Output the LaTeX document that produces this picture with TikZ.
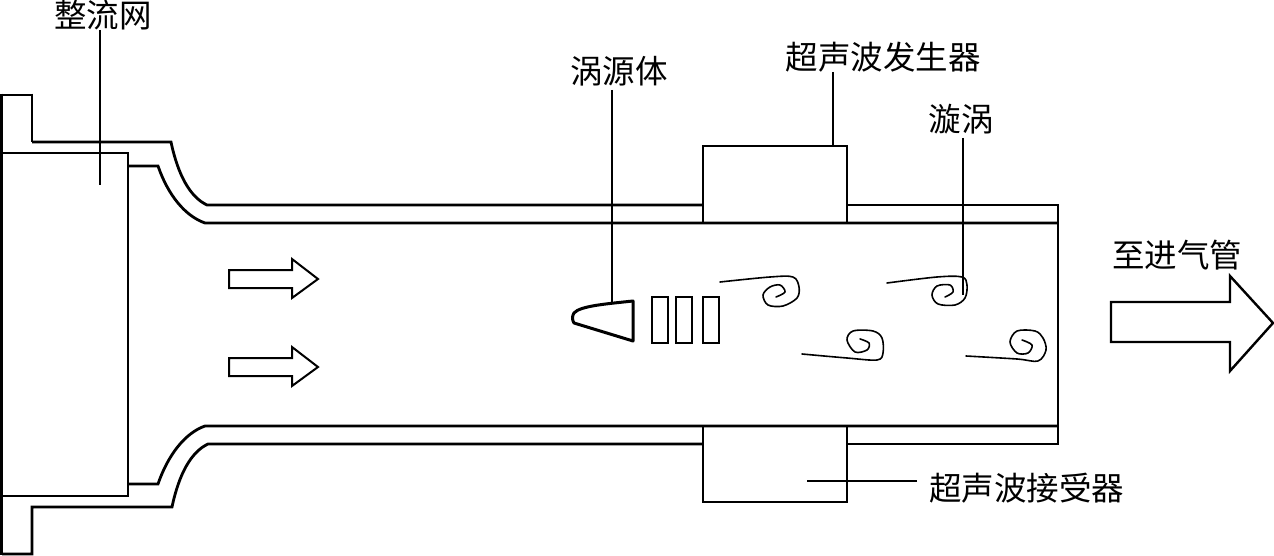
\documentclass[tikz,border=0pt]{standalone}
\usepackage{fontspec}
\newfontfamily\cjk{Noto Sans CJK SC}[Scale=1]
\tikzset{
  wall/.style={line width=2.8pt,line join=miter},
  thin lead/.style={line width=1.2pt},
  swirl/.style={line width=1.6pt,line join=round,line cap=round},
  label/.style={font=\cjk\fontsize{32.5}{32.5}\selectfont,inner sep=0pt,text=black}
}
\begin{document}
\begin{tikzpicture}[x=1pt,y=-1pt]
\useasboundingbox (0,0) rectangle (1274,556);
% labels
\node[label] (zl) at (103,15) {整流网};
\node[label] (wy) at (619,71) {涡源体};
\node[label] (fs) at (883,57) {超声波发生器};
\node[label] (xw) at (961,119) {漩涡};
\node[label] (zj) at (1177,255) {至进气管};
\node[label,anchor=west] (js) at (929,488) {超声波接受器};
% housing
\draw[wall] (32,142) -- (171,142)
  .. controls (178,175) and (190,197) .. (207,205) -- (703,205);
\draw[wall] (32,93.6) -- (32,142);
\draw[wall] (2,95) -- (32,95);
\draw[line width=3.2pt] (1.8,93.6) -- (1.8,555.4);
\draw[wall] (2,554) -- (32,554) -- (32,507) -- (172,507)
  .. controls (179,474) and (191,452) .. (208,444) -- (703,444);
\draw[wall] (2,153) -- (128,153) -- (128,496) -- (2,496);
\draw[wall] (128,166) -- (158,166) .. controls (168,195) and (185,216) .. (205,223) -- (1058,223);
\draw[wall] (128,484) -- (158,484) .. controls (168,455) and (185,433) .. (205,426) -- (1058,426);
\draw[wall] (703,222) -- (703,146) -- (847,146) -- (847,222);
\draw[wall] (703,426) -- (703,502) -- (847,502) -- (847,426);
\draw[wall] (847,205) -- (1058,205) -- (1058,444) -- (847,444);
% vortex body and bars
\draw[line width=3pt,line join=round] (633,301) .. controls (605,304) and (580,306) .. (574,313) .. controls (572,316) and (572,320) .. (574,323) -- (633,341) -- cycle;
\draw[wall] (652,297) rectangle (668,343);
\draw[wall] (676,297) rectangle (692,343);
\draw[wall] (703,297) rectangle (719,343);
% flow arrows
\draw[line width=2pt,line join=miter] (229,270) -- (292,270) -- (292,259) -- (318,279) -- (292,298) -- (292,288) -- (229,288) -- cycle;
\draw[line width=2pt,line join=miter] (229,358) -- (292,358) -- (292,347) -- (318,367) -- (292,386) -- (292,376) -- (229,376) -- cycle;
\draw[line width=2.4pt,line join=miter] (1111,302) -- (1230,302) -- (1230,276) -- (1273,323) -- (1230,371) -- (1230,342) -- (1111,342) -- cycle;
% swirls
\draw[swirl] plot[smooth,tension=0.55] coordinates {(720,282) (770,277) (793,277) (799,287) (797,298) (783,306) (768,305) (763,295) (770,287) (780,285) (785,292) (776,297)};
\draw[swirl] plot[smooth,tension=0.55] coordinates {(887,283) (937,277) (962,277) (967,285) (965,298) (955,305) (938,304) (932,295) (937,286) (950,285) (953,292) (945,297)};
\draw[swirl] plot[smooth,tension=0.55] coordinates {(802,354) (847,358) (877,360) (883,353) (882,338) (873,331) (853,331) (847,340) (855,352) (867,350) (869,343) (860,339)};
\draw[swirl] plot[smooth,tension=0.55] coordinates {(966,356) (1017,359) (1038,361) (1046,350) (1043,338) (1035,331) (1017,331) (1010,342) (1017,353) (1028,353) (1032,345) (1022,340)};
% leaders
\coordinate (zle) at (100,185);
\coordinate (wye) at (612,304);
\coordinate (fse) at (833,146);
\coordinate (xwe) at (963,295);
\coordinate (jse) at (807,481);
\draw[thin lead] (100,30) -- (zle);
\draw[thin lead] (612,90) -- (wye);
\draw[thin lead] (833,72) -- (fse);
\draw[thin lead] (963,138) -- (xwe);
\draw[thin lead] (js.west |- jse) ++(-12,0) -- (jse);
\end{tikzpicture}
\end{document}
